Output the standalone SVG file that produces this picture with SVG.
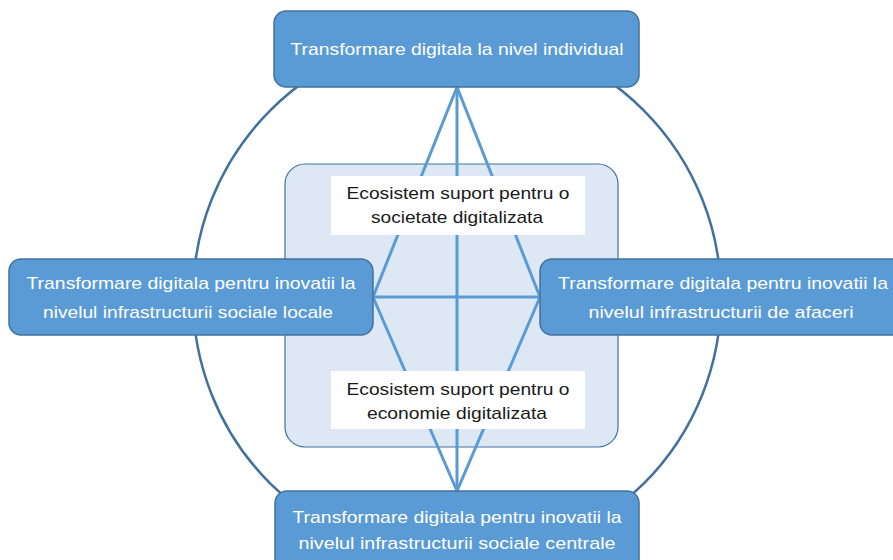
<svg xmlns="http://www.w3.org/2000/svg" width="893" height="560" viewBox="0 0 893 560">
<style>
.box{fill:#5b9bd5;stroke:#41719c;stroke-width:1.5}
.wt{fill:#ffffff;font-family:"Liberation Sans",Arial,sans-serif;font-size:17px;text-anchor:middle}
.dt{fill:#1a1a1a;font-family:"Liberation Sans",Arial,sans-serif;font-size:17px;text-anchor:middle}
.ln{stroke:#5b9bd5;stroke-width:3;fill:none}
</style>
<rect width="893" height="560" fill="#ffffff"/>
<g id="ring"><circle cx="457" cy="297" r="264" fill="none" stroke="#41719c" stroke-width="2.5"/></g>
<g id="core"><rect x="285" y="164" width="333" height="283" rx="20" fill="#dee8f5" stroke="#41719c" stroke-width="1.2"/></g>
<g id="connectors">
<line class="ln" x1="457" y1="87" x2="457" y2="491"/>
<line class="ln" x1="373" y1="297" x2="540" y2="297"/>
<polyline class="ln" points="373,297 457,87 540,297"/>
<polyline class="ln" points="373,297 457,491 540,297"/>
</g>
<g id="eco-societate">
<rect x="331" y="176" width="254" height="59" fill="#ffffff"/>
<text class="dt" x="458" y="199" textLength="223" lengthAdjust="spacingAndGlyphs">Ecosistem suport pentru o</text>
<text class="dt" x="457" y="223" textLength="172" lengthAdjust="spacingAndGlyphs">societate digitalizata</text>
</g>
<g id="eco-economie">
<rect x="331" y="371" width="254" height="58" fill="#ffffff"/>
<text class="dt" x="458" y="395" textLength="223" lengthAdjust="spacingAndGlyphs">Ecosistem suport pentru o</text>
<text class="dt" x="457" y="419" textLength="180" lengthAdjust="spacingAndGlyphs">economie digitalizata</text>
</g>
<g id="individual">
<rect class="box" x="274" y="11" width="365" height="76" rx="12"/>
<text class="wt" x="457" y="55" textLength="333" lengthAdjust="spacingAndGlyphs">Transformare digitala la nivel individual</text>
</g>
<g id="sociale-locale">
<rect class="box" x="9" y="259" width="364" height="76" rx="12"/>
<text class="wt" x="191" y="289" textLength="329" lengthAdjust="spacingAndGlyphs">Transformare digitala pentru inovatii la</text>
<text class="wt" x="188" y="318" textLength="290" lengthAdjust="spacingAndGlyphs">nivelul infrastructurii sociale locale</text>
</g>
<g id="afaceri">
<rect class="box" x="540" y="259" width="366" height="76" rx="12"/>
<text class="wt" x="723" y="289" textLength="330" lengthAdjust="spacingAndGlyphs">Transformare digitala pentru inovatii la</text>
<text class="wt" x="721" y="318" textLength="265" lengthAdjust="spacingAndGlyphs">nivelul infrastructurii de afaceri</text>
</g>
<g id="sociale-centrale">
<rect class="box" x="275" y="491" width="364" height="80" rx="12"/>
<text class="wt" x="457" y="523" textLength="329" lengthAdjust="spacingAndGlyphs">Transformare digitala pentru inovatii la</text>
<text class="wt" x="457" y="549" textLength="317" lengthAdjust="spacingAndGlyphs">nivelul infrastructurii sociale centrale</text>
</g>
</svg>
